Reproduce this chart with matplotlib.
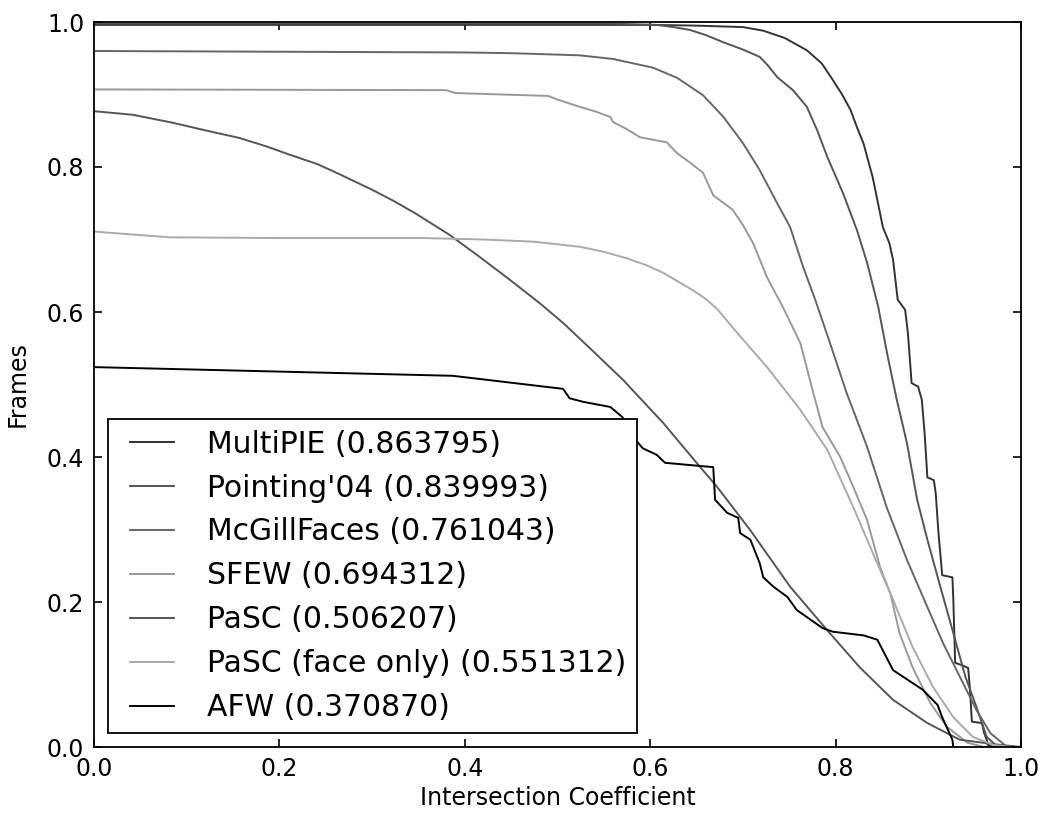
import matplotlib
matplotlib.use("Agg")
import matplotlib.pyplot as plt
from matplotlib.legend_handler import HandlerLine2D

# Success curves: fraction of frames whose intersection coefficient exceeds x
names = ["MultiPIE", "Pointing'04", "McGillFaces", "SFEW", "PaSC",
         "PaSC (face only)", "AFW"]
auc = [0.863795, 0.839993, 0.761043, 0.694312, 0.506207, 0.551312, 0.370870]
colors = ["#333333", "#555555", "#666666", "#999999", "#555555", "#aaaaaa", "#000000"]

multipie_x = [0.0, 0.60, 0.65, 0.70, 0.722, 0.745, 0.769, 0.785, 0.797, 0.807,
              0.816, 0.823, 0.830, 0.840, 0.851, 0.858, 0.862, 0.867, 0.875,
              0.878, 0.882, 0.889, 0.893, 0.896, 0.899, 0.906, 0.908, 0.911,
              0.915, 0.926, 0.927, 0.929, 0.936, 0.943, 0.945, 0.947, 0.958,
              0.960, 0.963, 0.964, 0.970]
multipie_y = [0.996, 0.996, 0.995, 0.993, 0.988, 0.978, 0.961, 0.943, 0.920,
              0.900, 0.879, 0.855, 0.833, 0.786, 0.717, 0.695, 0.672, 0.617,
              0.603, 0.571, 0.502, 0.497, 0.479, 0.433, 0.372, 0.368, 0.350,
              0.295, 0.237, 0.234, 0.203, 0.116, 0.113, 0.109, 0.079, 0.035,
              0.033, 0.020, 0.010, 0.003, 0.0]

pointing_x = [0.0, 0.55, 0.607, 0.625, 0.643, 0.660, 0.679, 0.700, 0.718, 0.727,
              0.737, 0.754, 0.769, 0.780, 0.791, 0.808, 0.823, 0.834, 0.846,
              0.856, 0.866, 0.877, 0.888, 0.899, 0.913, 0.927, 0.940, 0.952,
              0.963, 0.975]
pointing_y = [0.998, 0.998, 0.996, 0.993, 0.989, 0.982, 0.972, 0.962, 0.952,
              0.940, 0.924, 0.906, 0.883, 0.851, 0.814, 0.764, 0.713, 0.668,
              0.607, 0.540, 0.479, 0.419, 0.341, 0.286, 0.221, 0.157, 0.097,
              0.055, 0.014, 0.0]

mcgill_x = [0.0, 0.40, 0.45, 0.50, 0.524, 0.560, 0.603, 0.629, 0.657, 0.679,
            0.700, 0.718, 0.737, 0.751, 0.765, 0.778, 0.794, 0.812, 0.834,
            0.855, 0.877, 0.899, 0.916, 0.934, 0.952, 0.967, 0.985]
mcgill_y = [0.960, 0.958, 0.957, 0.955, 0.954, 0.949, 0.937, 0.923, 0.899,
            0.869, 0.833, 0.796, 0.750, 0.717, 0.662, 0.617, 0.557, 0.488,
            0.414, 0.331, 0.258, 0.193, 0.143, 0.097, 0.051, 0.019, 0.0]

sfew_x = [0.0, 0.38, 0.39, 0.49, 0.50, 0.524, 0.540, 0.557, 0.560, 0.575,
          0.589, 0.618, 0.629, 0.643, 0.657, 0.668, 0.689, 0.700, 0.711,
          0.726, 0.743, 0.762, 0.776, 0.786, 0.805, 0.819, 0.834, 0.848,
          0.859, 0.869, 0.883, 0.902, 0.920, 0.942, 0.960]
sfew_y = [0.907, 0.906, 0.902, 0.898, 0.893, 0.883, 0.877, 0.869, 0.862,
          0.852, 0.841, 0.834, 0.819, 0.806, 0.792, 0.761, 0.741, 0.720,
          0.695, 0.648, 0.607, 0.557, 0.488, 0.441, 0.400, 0.359, 0.313,
          0.248, 0.212, 0.157, 0.110, 0.061, 0.028, 0.006, 0.0]

pasc_x = [0.0, 0.042, 0.085, 0.122, 0.157, 0.187, 0.211, 0.241, 0.265, 0.301,
          0.325, 0.348, 0.384, 0.416, 0.446, 0.481, 0.506, 0.535, 0.571,
          0.614, 0.654, 0.672, 0.708, 0.751, 0.791, 0.826, 0.862, 0.899,
          0.934, 0.977, 1.0]
pasc_y = [0.877, 0.872, 0.861, 0.850, 0.840, 0.828, 0.817, 0.804, 0.790,
          0.768, 0.752, 0.735, 0.706, 0.676, 0.647, 0.612, 0.585, 0.550,
          0.506, 0.447, 0.386, 0.359, 0.299, 0.221, 0.161, 0.110, 0.065,
          0.033, 0.010, 0.003, 0.0]

face_x = [0.0, 0.04, 0.082, 0.20, 0.355, 0.42, 0.474, 0.524, 0.550, 0.575,
          0.595, 0.614, 0.646, 0.661, 0.673, 0.694, 0.726, 0.762, 0.791,
          0.819, 0.840, 0.862, 0.883, 0.905, 0.927, 0.948, 0.970, 0.990]
face_y = [0.711, 0.707, 0.703, 0.702, 0.702, 0.700, 0.697, 0.690, 0.683,
          0.674, 0.665, 0.654, 0.630, 0.617, 0.603, 0.571, 0.524, 0.465,
          0.410, 0.331, 0.268, 0.203, 0.138, 0.083, 0.041, 0.014, 0.003, 0.0]

afw_x = [0.0, 0.387, 0.506, 0.513, 0.528, 0.557, 0.570, 0.580, 0.592, 0.607,
         0.616, 0.668, 0.670, 0.683, 0.695, 0.697, 0.708, 0.718, 0.722,
         0.733, 0.748, 0.758, 0.786, 0.797, 0.830, 0.845, 0.862, 0.894,
         0.910, 0.915, 0.926, 0.927]
afw_y = [0.524, 0.512, 0.494, 0.481, 0.476, 0.469, 0.455, 0.430, 0.412,
         0.403, 0.392, 0.386, 0.341, 0.323, 0.316, 0.295, 0.286, 0.254,
         0.234, 0.221, 0.207, 0.189, 0.164, 0.159, 0.154, 0.148, 0.106,
         0.079, 0.058, 0.041, 0.010, 0.0]

series = [(multipie_x, multipie_y), (pointing_x, pointing_y),
          (mcgill_x, mcgill_y), (sfew_x, sfew_y), (pasc_x, pasc_y),
          (face_x, face_y), (afw_x, afw_y)]


class InsetLineHandler(HandlerLine2D):
    """Legend line that leaves a gap at the left of its handle box."""

    def __init__(self, inset=0.2, **kw):
        super().__init__(**kw)
        self.inset = inset

    def create_artists(self, legend, orig_handle, xdescent, ydescent,
                       width, height, fontsize, trans):
        artists = super().create_artists(legend, orig_handle, xdescent,
                                         ydescent, width, height, fontsize,
                                         trans)
        line = artists[0]
        xd = list(line.get_xdata())
        xd[0] = xd[0] + self.inset * width
        line.set_xdata(xd)
        return artists


plt.rcParams["font.family"] = ["DejaVu Sans"]

fig = plt.figure(figsize=(10.54, 8.13), dpi=100)
ax = fig.add_axes([94 / 1054, 1 - 747 / 813, (1021 - 94) / 1054, (747 - 22) / 813])

lines = []
for (xs, ys), name, a, c in zip(series, names, auc, colors):
    ln, = ax.plot(xs, ys, color=c, lw=1.4, label=f"{name} ({a:.6f})")
    lines.append(ln)

ax.set_xlim(0, 1)
ax.set_ylim(0, 1)
ax.set_xticks([0.0, 0.2, 0.4, 0.6, 0.8, 1.0])
ax.set_yticks([0.0, 0.2, 0.4, 0.6, 0.8, 1.0])
ax.tick_params(direction="in", top=True, right=True, length=6, width=1.2,
               labelsize=17, pad=7)
for sp in ax.spines.values():
    sp.set_linewidth(1.3)

ax.set_xlabel("Intersection Coefficient", fontsize=17, labelpad=4)
ax.set_ylabel("Frames", fontsize=17, labelpad=12)

leg = ax.legend(loc="lower left", fontsize=21.5, frameon=True, fancybox=False,
                edgecolor="black", framealpha=1.0, borderaxespad=0.47,
                handlelength=1.85, handletextpad=1.1, labelspacing=0.5,
                borderpad=0.36,
                handler_map={ln: InsetLineHandler(inset=0.2) for ln in lines})
leg.get_frame().set_linewidth(1.3)

fig.savefig("out.png", dpi=100)
